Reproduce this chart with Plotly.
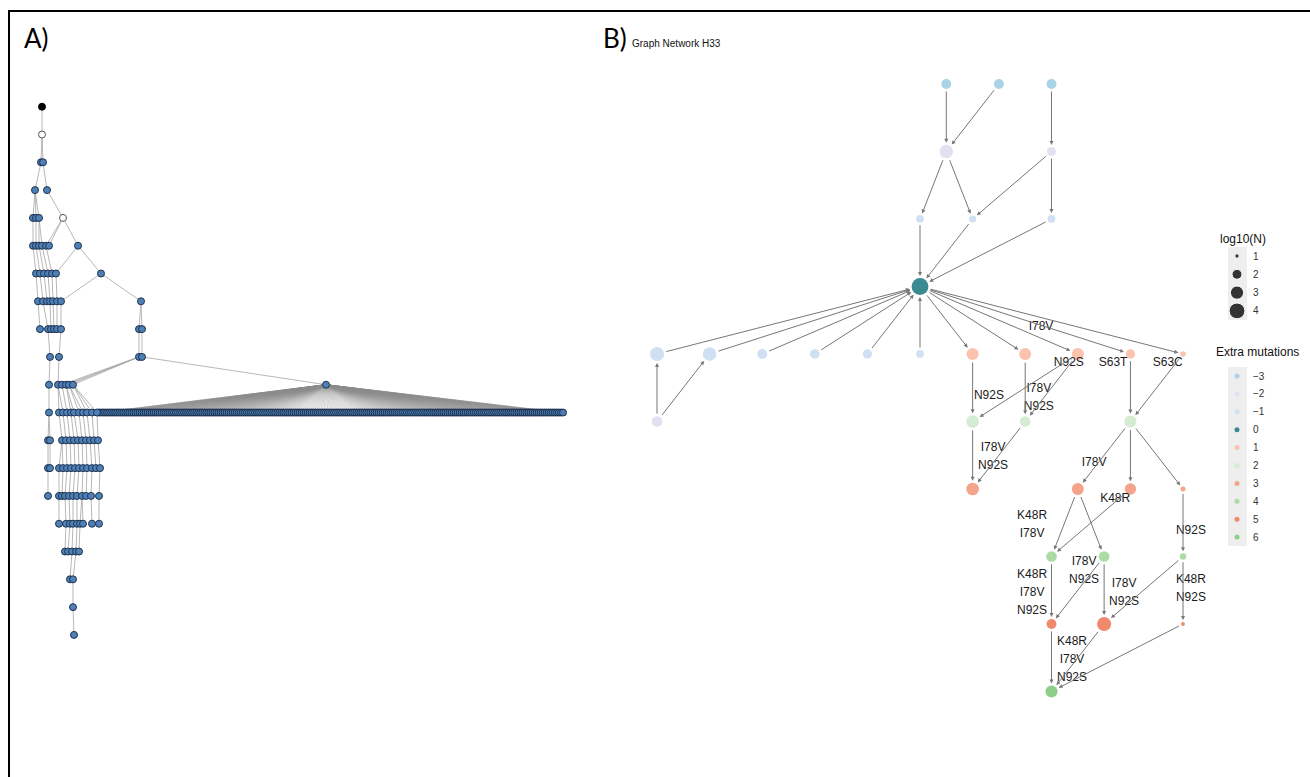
import numpy as np
import plotly.graph_objects as go

W, H = 1310, 777

# ---------------- Panel A: tree (x layout position, parent index in previous level) ----------------
A_levels = [
    [(42, None)],
    [(42, 0)],
    [(41, 0), (43, 0)],
    [(35, 0), (47, 1)],
    [(33, 0), (36, 0), (39, 0), (63, 1)],
    [(33, 0), (36, 1), (39, 2), (42, 2), (46, 3), (49, 3), (78, 3)],
    [(36, 0), (40, 1), (44, 2), (48, 3), (52, 4), (56, 6), (101, 6)],
    [(38, 0), (43, 1), (47, 2), (50, 3), (53, 4), (57, 5), (61, 6), (141, 6)],
    [(40, 0), (48, 1), (51, 3), (54, 4), (57, 5), (61, 6), (139, 7), (142, 7)],
    [(50, 1), (59, 5), (139, 6), (142, 7)],
    [(49, 0), (58, 1), (62, 2), (66, 2), (69, 2), (73, 2), (326, 3)],
    [(49, 0), (59, 1), (63, 1), (67, 2), (71, 3), (74, 3), (79, 4), (83, 4), (87, 5), (92, 5), (97, 5)],
    [(48, 0), (50, 0), (62, 1), (66, 2), (70, 3), (74, 4), (78, 5), (82, 6), (86, 7), (90, 8), (94, 9), (98, 10)],
    [(48, 0), (50, 1), (59, 2), (63, 2), (67, 3), (71, 4), (75, 5), (79, 6), (83, 7), (87, 8), (92, 9), (96, 10), (100, 11)],
    [(48, 0), (59, 2), (62, 3), (65, 4), (69, 5), (73, 6), (77, 7), (82, 8), (86, 9), (91, 10), (99, 12)],
    [(59, 1), (66, 3), (70, 4), (73, 5), (77, 6), (80, 7), (83, 7), (92, 9), (99, 10)],
    [(65, 1), (68, 2), (72, 3), (76, 4), (79, 5)],
    [(70, 2), (73, 3)],
    [(73, 1)],
    [(74, 0)],
]
A_black = [(0, 0)]
A_white = [(1, 0), (4, 3)]
A_hub = (10, 6)              # node with the large fan of children
A_hub_children = 230         # number of children in the long row
A_row_level = 11
A_row_span = (99, 563)

# ---------------- Panel B: graph network H33 ----------------
B_col = [5.5, 6.5, 7.5, 5.5, 7.5, 5, 6, 7.5, 5,
         0, 1, 2, 3, 4, 5, 6, 7, 8, 9, 10,
         0, 6, 7, 9, 6, 8, 9, 10, 7.5, 8.5, 10, 7.5, 8.5, 10, 7.5]
B_row = [0, 0, 0, 1, 1, 2, 2, 2, 3,
         4, 4, 4, 4, 4, 4, 4, 4, 4, 4, 4,
         5, 5, 5, 5, 6, 6, 6, 6, 7, 7, 7, 8, 8, 8, 9]
B_log10N = [2.0, 2.0, 2.0, 3.1, 1.8, 1.5, 1.4, 1.5, 4.4,
            3.3, 3.1, 2.0, 1.9, 1.85, 1.5, 2.6, 2.6, 2.6, 1.85, 1.15,
            2.2, 2.8, 2.2, 2.6, 2.8, 2.6, 2.4, 1.08, 2.2, 2.2, 1.28, 2.0, 3.3, 0.95, 2.6]
B_extra = [-3, -3, -3, -2, -2, -1, -1, -1, 0,
           -1, -1, -1, -1, -1, -1, 1, 1, 1, 1, 1,
           -2, 2, 2, 2, 3, 3, 3, 3, 4, 4, 4, 5, 5, 5, 6]
B_edges = [(0, 3), (1, 3), (2, 4), (3, 5), (3, 6), (4, 6), (4, 7), (5, 8), (6, 8), (7, 8),
           (9, 8), (10, 8), (11, 8), (12, 8), (13, 8), (14, 8), (20, 9), (20, 10),
           (8, 15), (8, 16), (8, 17), (8, 18), (8, 19),
           (15, 21), (17, 21), (17, 22), (16, 22), (21, 24), (22, 24),
           (18, 23), (19, 23), (23, 25), (23, 26), (23, 27),
           (25, 28), (25, 29), (26, 28), (27, 30),
           (28, 31), (29, 31), (29, 32), (30, 32), (30, 33),
           (31, 34), (32, 34), (33, 34)]
B_labels = [("I78V", 7.30, 3.60), ("N92S", 7.83, 4.13), ("S63T", 8.67, 4.13), ("S63C", 9.71, 4.13),
            ("N92S", 6.31, 4.62), ("I78V\nN92S", 7.26, 4.65), ("I78V\nN92S", 6.39, 5.53),
            ("I78V", 8.31, 5.61), ("K48R", 8.71, 6.15), ("K48R\nI78V", 7.13, 6.53),
            ("N92S", 10.15, 6.62), ("I78V\nN92S", 8.12, 7.21), ("K48R\nI78V\nN92S", 7.13, 7.54),
            ("I78V\nN92S", 8.88, 7.54), ("K48R\nN92S", 10.15, 7.48), ("K48R\nI78V\nN92S", 7.89, 8.53)]

extra_levels = [-3, -2, -1, 0, 1, 2, 3, 4, 5, 6]
extra_colors = ["#a9d3e7", "#e2e1f0", "#cfe0f2", "#3b8a91", "#fbc3ae",
                "#d4ecd1", "#f5a48c", "#acdba6", "#f1896c", "#8dcf8a"]
size_levels = [1, 2, 3, 4]


def size_of(v):
    return 0.5 + 8.6 * np.sqrt(max(v - 0.8, 0.01))


color_of = dict(zip(extra_levels, extra_colors))
FONT = "Liberation Sans, Arial"

fig = go.Figure()

# ---------- Panel A traces (axis x/y) ----------
ex, ey = [], []
for lv in range(1, len(A_levels)):
    for (x, p) in A_levels[lv]:
        px_ = A_levels[lv - 1][p][0]
        ex += [px_, x, None]
        ey += [lv - 1, lv, None]
fig.add_trace(go.Scatter(x=ex, y=ey, mode="lines", line=dict(color="rgba(165,165,165,0.8)", width=1),
                         hoverinfo="skip", xaxis="x", yaxis="y"))
hx = A_levels[A_hub[0]][A_hub[1]][0]
row_x = np.linspace(A_row_span[0], A_row_span[1], A_hub_children)
fx, fy = [], []
for x in row_x:
    fx += [hx, x, None]
    fy += [A_hub[0], A_row_level, None]
fig.add_trace(go.Scatter(x=fx, y=fy, mode="lines", line=dict(color="rgba(140,140,140,0.5)", width=0.8),
                         hoverinfo="skip", xaxis="x", yaxis="y"))

nx, ny, nfill, nline = [], [], [], []
for lv, nodes in enumerate(A_levels):
    for i, (x, p) in enumerate(nodes):
        nx.append(x)
        ny.append(lv)
        if (lv, i) in A_black:
            nfill.append("#000000"); nline.append("#000000")
        elif (lv, i) in A_white:
            nfill.append("#ffffff"); nline.append("#555555")
        else:
            nfill.append("#4e80b6"); nline.append("#1e3350")
fig.add_trace(go.Scatter(x=list(row_x), y=[A_row_level] * len(row_x), mode="markers",
                         marker=dict(size=7, color="#4a7cb2", opacity=1, line=dict(color="#1a2e4a", width=1)),
                         hoverinfo="skip", xaxis="x", yaxis="y"))
fig.add_trace(go.Scatter(x=nx, y=ny, mode="markers",
                         marker=dict(size=7, color=nfill, opacity=1, line=dict(color=nline, width=1)),
                         hoverinfo="skip", xaxis="x", yaxis="y"))

# ---------- Panel B traces (axis x2/y2) ----------
sizes = [size_of(v) for v in B_log10N]
fig.add_trace(go.Scatter(x=B_col, y=B_row, mode="markers",
                         marker=dict(size=sizes, opacity=1, color=[color_of[e] for e in B_extra], line=dict(width=0)),
                         hoverinfo="skip", xaxis="x2", yaxis="y2"))

annotations = []
for s, t in B_edges:
    annotations.append(dict(x=B_col[t], y=B_row[t], ax=B_col[s], ay=B_row[s],
                            xref="x2", yref="y2", axref="x2", ayref="y2", text="",
                            showarrow=True, arrowhead=2, arrowsize=0.8, arrowwidth=1,
                            arrowcolor="#777777", standoff=sizes[t] / 2 + 2,
                            startstandoff=sizes[s] / 2 + 1))

line_step = 0.267
lx, ly, lt = [], [], []
for text, c, r in B_labels:
    lines = text.split("\n")
    n = len(lines)
    for k, ln in enumerate(lines):
        lx.append(c)
        ly.append(r + (k - (n - 1) / 2) * line_step)
        lt.append(ln)
fig.add_trace(go.Scatter(x=lx, y=ly, mode="text", text=lt,
                         textfont=dict(family=FONT, size=12, color="#1a1a1a"),
                         hoverinfo="skip", xaxis="x2", yaxis="y2"))

# ---------- Legend (axis x3/y3, pixel units) ----------
key_x = 1237
sz_y0, sz_step = 256, 18.3
col_y0, col_step = 376, 17.9
shapes = [
    dict(type="rect", xref="x3", yref="y3", x0=1228, x1=1247, y0=sz_y0 - 9, y1=sz_y0 + 3 * sz_step + 9,
         fillcolor="#eeeeee", line=dict(width=0), layer="below"),
    dict(type="rect", xref="x3", yref="y3", x0=1228, x1=1247, y0=col_y0 - 9, y1=col_y0 + 9 * col_step + 9,
         fillcolor="#eeeeee", line=dict(width=0), layer="below"),
    dict(type="line", xref="x3", yref="y3", x0=9, x1=9, y0=10, y1=800, line=dict(color="#000", width=2)),
    dict(type="line", xref="x3", yref="y3", x0=8, x1=1320, y0=11, y1=11, line=dict(color="#000", width=2)),
]
fig.add_trace(go.Scatter(x=[key_x] * len(size_levels), y=[sz_y0 + i * sz_step for i in range(len(size_levels))],
                         mode="markers",
                         marker=dict(size=[size_of(v) for v in size_levels], color="#333333", opacity=1),
                         hoverinfo="skip", xaxis="x3", yaxis="y3"))
fig.add_trace(go.Scatter(x=[key_x] * len(extra_levels), y=[col_y0 + i * col_step for i in range(len(extra_levels))],
                         mode="markers", marker=dict(size=5, color=extra_colors, opacity=1),
                         hoverinfo="skip", xaxis="x3", yaxis="y3"))
for i, v in enumerate(size_levels):
    annotations.append(dict(x=1251, y=sz_y0 + i * sz_step, xref="x3", yref="y3", xanchor="left",
                            text=str(v), showarrow=False, font=dict(family=FONT, size=10, color="#333")))
for i, v in enumerate(extra_levels):
    annotations.append(dict(x=1251, y=col_y0 + i * col_step, xref="x3", yref="y3", xanchor="left",
                            text=str(v).replace("-", "\u2212"), showarrow=False,
                            font=dict(family=FONT, size=10, color="#333")))

annotations += [
    dict(x=1218, y=239, xref="x3", yref="y3", xanchor="left", text="log10(N)", showarrow=False,
         font=dict(family=FONT, size=12, color="#111")),
    dict(x=1214, y=352, xref="x3", yref="y3", xanchor="left", text="Extra mutations", showarrow=False,
         font=dict(family=FONT, size=12, color="#111")),
    dict(x=22, y=38, xref="x3", yref="y3", xanchor="left", text="A)", showarrow=False,
         font=dict(family="Liberation Sans Narrow, Lato, Liberation Sans", size=26, color="#000")),
    dict(x=601, y=38, xref="x3", yref="y3", xanchor="left", text="B)", showarrow=False,
         font=dict(family="Liberation Sans Narrow, Lato, Liberation Sans", size=26, color="#000")),
    dict(x=630, y=43, xref="x3", yref="y3", xanchor="left", text="Graph Network H33", showarrow=False,
         font=dict(family=FONT, size=10, color="#111")),
]

ax_common = dict(visible=False, showgrid=False, zeroline=False, fixedrange=True, domain=[0, 1])
fig.update_layout(
    width=W, height=H, autosize=False,
    margin=dict(l=0, r=0, t=0, b=0, pad=0),
    paper_bgcolor="white", plot_bgcolor="rgba(0,0,0,0)",
    showlegend=False,
    xaxis=dict(ax_common, range=[0, W], anchor="y"),
    yaxis=dict(ax_common, range=[24.11, -3.838], anchor="x"),
    xaxis2=dict(ax_common, range=[-12.49, 12.414], anchor="y2", overlaying="x"),
    yaxis2=dict(ax_common, range=[10.267, -1.244], anchor="x2", overlaying="y"),
    xaxis3=dict(ax_common, range=[0, W], anchor="y3", overlaying="x"),
    yaxis3=dict(ax_common, range=[H, 0], anchor="x3", overlaying="y"),
    shapes=shapes,
    annotations=annotations,
)

fig.write_html("out.html", config={"displayModeBar": False})
